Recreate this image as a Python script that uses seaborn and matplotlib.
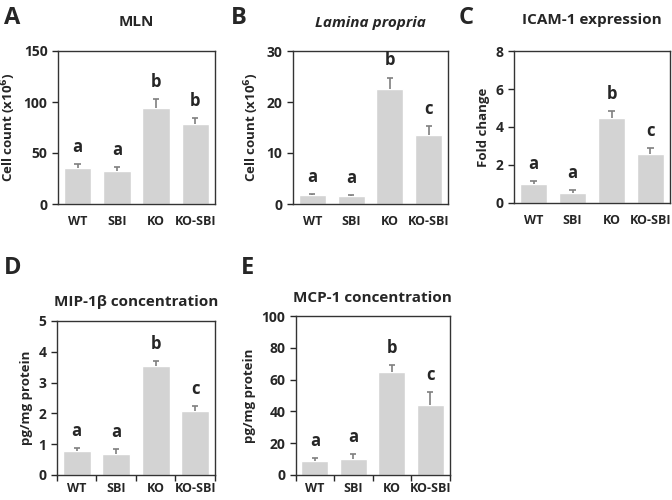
import seaborn as sns
import matplotlib.pyplot as plt
import pandas as pd

# groups shared by every panel
groups = ["WT", "SBI", "KO", "KO-SBI"]

# A - MLN
mln_mean = [35, 32, 94, 78]
mln_err = [4, 4, 9, 6]
mln_sig = ["a", "a", "b", "b"]

# B - Lamina propria
lp_mean = [1.7, 1.5, 22.5, 13.5]
lp_err = [0.2, 0.2, 2.3, 1.8]
lp_sig = ["a", "a", "b", "c"]

# C - ICAM-1 expression
icam_mean = [1.0, 0.55, 4.5, 2.6]
icam_err = [0.15, 0.12, 0.35, 0.3]
icam_sig = ["a", "a", "b", "c"]

# D - MIP-1b concentration
mip_mean = [0.78, 0.68, 3.55, 2.07]
mip_err = [0.1, 0.15, 0.15, 0.17]
mip_sig = ["a", "a", "b", "c"]

# E - MCP-1 concentration
mcp_mean = [9, 10, 65, 44]
mcp_err = [1.5, 3, 4, 8]
mcp_sig = ["a", "a", "b", "c"]

sns.set_style("white")
plt.rcParams["font.family"] = ["Open Sans", "DejaVu Sans"]
plt.rcParams["font.weight"] = "bold"

bar_color = "#d3d3d3"
err_color = "#7f7f7f"

fig = plt.figure(figsize=(6.72, 5.0), dpi=100)


def panel(rect, mean, err, sig, ymax, step, title, ylabel, letter, letter_xy,
          title_y, boundary_ticks=False, italic=False):
    ax = fig.add_axes(rect)
    df = pd.DataFrame({"group": groups, "value": mean})
    sns.barplot(data=df, x="group", y="value", color=bar_color,
                saturation=1, width=0.7, errorbar=None, ax=ax)
    # upper-only error bars (Excel style)
    xs = list(range(len(groups)))
    tops = [m + e for m, e in zip(mean, err)]
    ax.vlines(xs, mean, tops, color=err_color, lw=1.2)
    ax.hlines(tops, [x - 0.08 for x in xs], [x + 0.08 for x in xs],
              color=err_color, lw=1.2)
    for i, (t, s) in enumerate(zip(tops, sig)):
        ax.annotate(s, (i, t), xytext=(0, 6), textcoords="offset points",
                    ha="center", va="bottom", fontsize=12, fontweight="bold")
    ax.set_ylim(0, ymax)
    ax.set_yticks([step * k for k in range(int(round(ymax / step)) + 1)])
    ax.set_xlim(-0.5, len(groups) - 0.5)
    ax.set_xlabel("")
    ax.set_ylabel(ylabel, fontsize=9.5, fontweight="bold")
    ax.tick_params(axis="y", direction="out", length=4, width=1,
                   labelsize=10, left=True)
    for t in ax.get_yticklabels():
        t.set_fontweight("bold")
    if boundary_ticks:
        ax.set_xticks([k - 0.5 for k in range(len(groups) + 1)], minor=False)
        ax.set_xticklabels([])
        ax.set_xticks(xs, minor=True)
        ax.set_xticklabels(groups, minor=True)
        ax.tick_params(axis="x", which="major", direction="out", length=4,
                       width=1, bottom=True)
        ax.tick_params(axis="x", which="minor", length=0, labelsize=9,
                       pad=5)
        for t in ax.get_xticklabels(minor=True):
            t.set_fontweight("bold")
    else:
        ax.tick_params(axis="x", length=0, labelsize=9, pad=8)
        for t in ax.get_xticklabels():
            t.set_fontweight("bold")
    for sp in ax.spines.values():
        sp.set_visible(True)
        sp.set_color("#333333")
        sp.set_linewidth(1.0)
    cx = rect[0] + rect[2] / 2
    fig.text(cx, title_y, title, ha="center", va="center", fontsize=11,
             fontweight="bold", fontstyle="italic" if italic else "normal")
    fig.text(letter_xy[0], letter_xy[1], letter, ha="left", va="center",
             fontsize=17, fontweight="bold")
    return ax


panel([0.0863, 0.592, 0.2336, 0.306], mln_mean, mln_err, mln_sig, 150, 50,
      "MLN", "Cell count (x10$^{6}$)", "A", (0.006, 0.965), 0.955)
panel([0.436, 0.592, 0.2307, 0.306], lp_mean, lp_err, lp_sig, 30, 10,
      "Lamina propria", "Cell count (x10$^{6}$)", "B", (0.344, 0.965), 0.955,
      italic=True)
panel([0.765, 0.594, 0.232, 0.304], icam_mean, icam_err, icam_sig, 8, 2,
      "ICAM-1 expression", "Fold change", "C", (0.683, 0.965), 0.96)
panel([0.0848, 0.05, 0.235, 0.308], mip_mean, mip_err, mip_sig, 5, 1,
      "MIP-1\u03b2 concentration", "pg/mg protein", "D", (0.006, 0.463),
      0.396, boundary_ticks=True)
panel([0.440, 0.05, 0.229, 0.318], mcp_mean, mcp_err, mcp_sig, 100, 20,
      "MCP-1 concentration", "pg/mg protein", "E", (0.358, 0.463), 0.405,
      boundary_ticks=True)

fig.savefig("out.png", dpi=100)
